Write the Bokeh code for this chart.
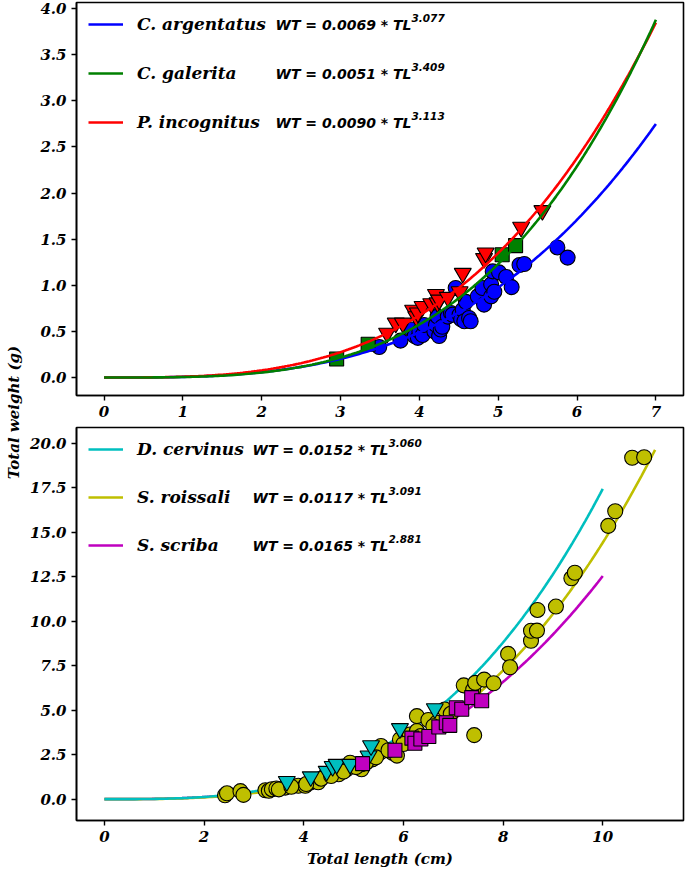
import numpy as np
from bokeh.plotting import figure
from bokeh.models import (Legend, LegendItem, Label, FixedTicker,
                          NumeralTickFormatter, Range1d)
from bokeh.layouts import row, column
from bokeh.embed import file_html
from bokeh.resources import INLINE

# ---------------- data: top panel ----------------
top_species = ["C. argentatus", "C. galerita", "P. incognitus"]
top_a = [0.0069, 0.0051, 0.0090]
top_b = [3.077, 3.409, 3.113]
top_tl_max = [7.0, 7.0, 7.0]

arg_tl = [3.49, 3.76, 3.90, 3.94, 3.98, 4.00, 4.04, 4.06, 4.19, 4.21, 4.23, 4.25, 4.27,
          4.29, 4.36, 4.40, 4.42, 4.46, 4.51, 4.53, 4.55, 4.57, 4.59, 4.63, 4.65, 4.74,
          4.80, 4.82, 4.91, 4.91, 4.95, 4.93, 5.01, 5.10, 5.17, 5.27, 5.33, 5.75, 5.88]
arg_wt = [0.33, 0.40, 0.52, 0.45, 0.43, 0.50, 0.46, 0.57, 0.50, 0.57, 0.66, 0.45, 0.52,
          0.55, 0.66, 0.70, 0.68, 0.97, 0.68, 0.63, 0.735, 0.61, 0.82, 0.645, 0.61, 0.88,
          0.97, 0.79, 1.01, 0.88, 0.93, 1.15, 1.14, 1.09, 0.98, 1.22, 1.23, 1.41, 1.30]

gal_tl = [2.95, 3.35, 5.05, 5.22]
gal_wt = [0.20, 0.36, 1.33, 1.43]

inc_tl = [3.59, 3.70, 3.79, 3.92, 3.96, 3.98, 4.04, 4.15, 4.21, 4.23, 4.25, 4.36, 4.51,
          4.55, 4.82, 4.84, 5.29, 5.56]
inc_wt = [0.48, 0.59, 0.59, 0.73, 0.66, 0.70, 0.77, 0.80, 0.90, 0.81, 0.84, 0.87, 0.93,
          1.13, 1.29, 1.35, 1.63, 1.81]

top_x_ticks = [0, 1, 2, 3, 4, 5, 6, 7]
top_y_ticks = [0.0, 0.5, 1.0, 1.5, 2.0, 2.5, 3.0, 3.5, 4.0]

# ---------------- data: bottom panel ----------------
bot_species = ["D. cervinus", "S. roissali", "S. scriba"]
bot_a = [0.0152, 0.0117, 0.0165]
bot_b = [3.060, 3.091, 2.881]
bot_tl_max = [10.0, 11.05, 10.0]

cer_tl = [3.66, 4.14, 4.46, 4.58, 4.66, 4.93, 5.30, 5.35, 5.93, 6.63]
cer_wt = [1.00, 1.26, 1.57, 1.84, 1.96, 1.96, 2.43, 3.01, 3.97, 5.09]

roi_tl = [2.42, 2.46, 2.73, 2.79, 3.23, 3.30, 3.36, 3.45, 3.63, 3.89, 4.03, 4.13, 4.19,
          4.29, 4.44, 4.60, 4.70, 4.86, 4.93, 5.16, 5.16, 5.38, 5.53, 5.55, 5.78, 5.87,
          5.93, 6.10, 6.13, 6.27, 6.27, 6.50, 6.67, 6.83, 7.21, 7.40, 7.42, 7.44, 7.62,
          7.81, 8.10, 8.14, 8.56, 8.56, 8.68, 8.69, 9.06, 9.37, 9.44, 10.11, 10.25, 10.59,
          10.83, 3.50, 3.75, 4.05, 4.35, 4.55, 4.80, 5.05, 5.25, 5.45, 5.70, 6.00, 6.35,
          6.60, 6.95]
roi_wt = [0.22, 0.33, 0.45, 0.24, 0.50, 0.47, 0.56, 0.60, 0.65, 0.75, 0.75, 0.93, 1.03,
          0.95, 1.35, 1.49, 1.40, 1.68, 2.05, 1.68, 1.96, 2.24, 2.62, 2.99, 2.60, 2.45,
          3.36, 3.55, 3.64, 3.83, 4.67, 4.45, 4.30, 5.04, 6.40, 6.16, 3.60, 6.54, 6.72,
          6.52, 8.17, 7.42, 8.91, 9.47, 9.48, 10.64, 10.83, 12.42, 12.73, 15.37, 16.19, 19.20,
          19.23, 0.55, 0.70, 0.85, 1.15, 1.30, 1.55, 1.80, 2.05, 2.35, 2.75, 3.10, 3.55,
          4.10, 4.80]

sci_tl = [5.18, 5.83, 6.17, 6.23, 6.35, 6.51, 6.71, 6.86, 6.93, 7.06, 7.17, 7.37, 7.57]
sci_wt = [2.00, 2.75, 3.43, 3.14, 3.38, 3.52, 4.06, 4.30, 4.15, 5.14, 5.06, 5.71, 5.53]

bot_x_ticks = [0, 2, 4, 6, 8, 10]
bot_y_ticks = [0.0, 2.5, 5.0, 7.5, 10.0, 12.5, 15.0, 17.5, 20.0]

x_label = "Total length (cm)"
y_label = "Total weight (g)"

# ---------------- styling ----------------
SERIF = "DejaVu Serif"
SANS = "DejaVu Sans"
top_colors = ["#0000FF", "#008000", "#FF0000"]
bot_colors = ["#00BFBF", "#BFBF00", "#BF00BF"]


def style(p, xt, yt):
    p.grid.visible = False
    p.outline_line_color = "black"
    p.outline_line_width = 1.6
    p.background_fill_color = "white"
    p.border_fill_color = "white"
    for ax in (p.xaxis[0], p.yaxis[0]):
        ax.axis_line_color = "black"
        ax.axis_line_width = 1.6
        ax.major_tick_line_color = "black"
        ax.major_tick_line_width = 1.4
        ax.major_tick_out = 5
        ax.major_tick_in = 0
        ax.minor_tick_line_color = None
        ax.major_label_text_font = SERIF
        ax.major_label_text_font_style = "bold italic"
        ax.major_label_text_font_size = "15px"
        ax.major_label_text_color = "black"
        ax.major_label_standoff = 5
    p.xaxis.ticker = FixedTicker(ticks=xt)
    p.yaxis.ticker = FixedTicker(ticks=yt)
    p.yaxis.formatter = NumeralTickFormatter(format="0.0")


def add_legend(p, renderers, names, a_vals, b_vals, frame_h, eq_x, spacing):
    legend = Legend(
        items=[LegendItem(label=n, renderers=[r]) for n, r in zip(names, renderers)],
        location="top_left", margin=12, padding=0, spacing=spacing,
        glyph_width=35, glyph_height=20, label_height=20, label_standoff=14,
        label_text_font=SERIF, label_text_font_style="bold italic",
        label_text_font_size="17px", label_text_color="black",
        border_line_color=None, background_fill_alpha=0)
    p.add_layout(legend)
    for i, (a, b) in enumerate(zip(a_vals, b_vals)):
        yc = frame_h - (22 + i * (20 + spacing))
        p.add_layout(Label(x=eq_x, y=yc, x_units="screen", y_units="screen",
                           text=f"WT = {a:.4f} * TL", text_font=SANS,
                           text_font_style="bold italic", text_font_size="14px",
                           text_baseline="middle", text_align="left", text_color="black"))
        p.add_layout(Label(x=eq_x + 136, y=yc + 7, x_units="screen", y_units="screen",
                           text=f"{b:.3f}", text_font=SANS,
                           text_font_style="bold italic", text_font_size="10.5px",
                           text_baseline="middle", text_align="left", text_color="black"))


# ---------------- top figure ----------------
TOP_FH = 393
p1 = figure(frame_width=607, frame_height=TOP_FH, min_border_left=50, min_border_right=2,
            min_border_top=2, min_border_bottom=29,
            x_range=Range1d(-0.35, 7.35), y_range=Range1d(-0.195, 4.065),
            output_backend="svg", toolbar_location=None)
style(p1, top_x_ticks, top_y_ticks)

p1.scatter(arg_tl, arg_wt, marker="circle", size=15, fill_color=top_colors[0],
           line_color="black", line_width=1.1)
p1.scatter(gal_tl, gal_wt, marker="square", size=14, fill_color=top_colors[1],
           line_color="black", line_width=1.1)
p1.scatter(inc_tl, inc_wt, marker="inverted_triangle", size=17, fill_color=top_colors[2],
           line_color="black", line_width=1.1)

top_lines = [None, None, None]
for i in (0, 2, 1):  # draw order: blue, red, green on top
    xs = np.linspace(0, top_tl_max[i], 200)
    top_lines[i] = p1.line(xs, top_a[i] * xs ** top_b[i], line_color=top_colors[i],
                           line_width=2.6)
add_legend(p1, top_lines, top_species, top_a, top_b, TOP_FH, 199, 29)

# ---------------- bottom figure ----------------
BOT_FH = 393
p2 = figure(frame_width=607, frame_height=BOT_FH, min_border_left=50, min_border_right=2,
            min_border_top=3, min_border_bottom=52,
            x_range=Range1d(-0.56, 11.62), y_range=Range1d(-1.2, 20.9),
            output_backend="svg", toolbar_location=None)
style(p2, bot_x_ticks, bot_y_ticks)
p2.xaxis.axis_label = x_label
p2.xaxis.axis_label_text_font = SERIF
p2.xaxis.axis_label_text_font_style = "bold italic"
p2.xaxis.axis_label_text_font_size = "15px"
p2.xaxis.axis_label_text_color = "black"
p2.xaxis.axis_label_standoff = 5

bot_lines = [None, None, None]
for i in (2, 1, 0):  # draw order: magenta, yellow, cyan on top
    xs = np.linspace(0, bot_tl_max[i], 200)
    bot_lines[i] = p2.line(xs, bot_a[i] * xs ** bot_b[i], line_color=bot_colors[i],
                           line_width=2.6)

p2.scatter(roi_tl, roi_wt, marker="circle", size=15, fill_color=bot_colors[1],
           line_color="black", line_width=1.1)
p2.scatter(cer_tl, cer_wt, marker="inverted_triangle", size=17, fill_color=bot_colors[0],
           line_color="black", line_width=1.1)
p2.scatter(sci_tl, sci_wt, marker="square", size=14, fill_color=bot_colors[2],
           line_color="black", line_width=1.1)
add_legend(p2, bot_lines, bot_species, bot_a, bot_b, BOT_FH, 176, 28)

# ---------------- shared y label ----------------
LAB_H = 872
lab = figure(frame_width=26, frame_height=LAB_H, min_border=0,
             x_range=Range1d(0, 1), y_range=Range1d(0, 1),
             x_axis_location=None, y_axis_location=None,
             output_backend="svg", toolbar_location=None)
lab.grid.visible = False
lab.outline_line_color = None
lab.add_layout(Label(x=13, y=LAB_H - 412, x_units="screen", y_units="screen", text=y_label,
                     angle=np.pi / 2, text_align="center", text_baseline="middle",
                     text_font=SERIF, text_font_style="bold italic",
                     text_font_size="15px", text_color="black"))

layout = row(lab, column(p1, p2))
open("out.html", "w").write(file_html(layout, INLINE))
